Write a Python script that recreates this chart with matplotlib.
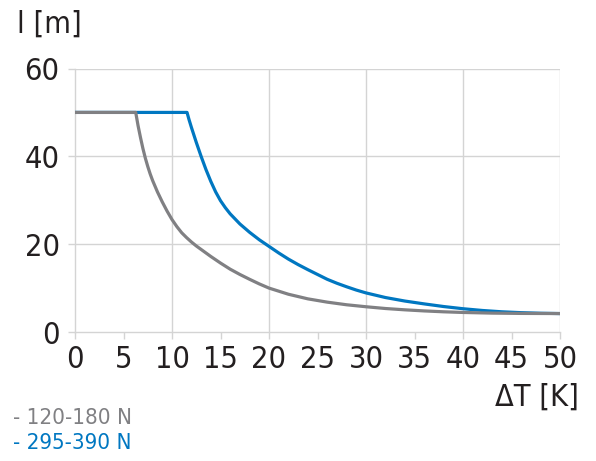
import matplotlib
matplotlib.use("Agg")
import matplotlib.pyplot as plt

plt.rcParams['font.family'] = ['DejaVu Sans']
plt.rcParams['font.stretch'] = 'condensed'

# Data
gray_x = [0, 6.26, 6.5, 6.75, 7.0, 7.25, 7.5, 7.75, 8.0, 8.5, 9.0, 9.5, 10, 10.5, 11, 11.5,
          12, 12.5, 13, 14, 15, 16, 17, 18, 19, 20, 22, 24, 26, 28, 30, 32, 34, 36, 38, 40,
          43, 46, 50]
gray_y = [50, 50, 47.0, 44.3, 41.8, 39.6, 37.7, 36.0, 34.5, 31.9, 29.6, 27.5, 25.6, 24.0, 22.6, 21.5,
          20.5, 19.6, 18.8, 17.2, 15.7, 14.3, 13.1, 12.0, 10.95, 10.0, 8.6, 7.55, 6.8, 6.2, 5.75, 5.35, 5.05, 4.8, 4.6, 4.45,
          4.3, 4.23, 4.2]

blue_x = [0, 11.55, 11.75, 12.0, 12.5, 13.0, 13.5, 14.0, 14.5, 15.0, 15.5, 16.0, 17, 18, 19, 20,
          21, 22, 23, 24, 25, 26, 27, 28, 29, 30, 32, 34, 36, 38, 40, 42, 44, 46, 48, 50]
blue_y = [50, 50, 48.4, 46.6, 43.2, 40.0, 37.0, 34.3, 31.9, 29.9, 28.3, 26.9, 24.6, 22.7, 21.0, 19.5,
          18.0, 16.6, 15.35, 14.2, 13.1, 12.0, 11.1, 10.3, 9.55, 8.9, 7.85, 7.05, 6.4, 5.8, 5.3, 4.9, 4.6, 4.4, 4.27, 4.2]

x_ticks = [0, 5, 10, 15, 20, 25, 30, 35, 40, 45, 50]
y_ticks = [0, 20, 40, 60]
legend_labels = ['- 120-180 N', '- 295-390 N']

GRAY = '#808083'
BLUE = '#0077c1'
TXT = '#231f20'
GRID = '#d4d4d4'

fig = plt.figure(figsize=(5.96, 4.61), dpi=100)
ax = fig.add_axes([75/596, 1-332/461, (560-75)/596, (332-68.5)/461])

ax.set_xlim(0, 50)
ax.set_ylim(0, 60)

for xv in [10, 20, 30, 40, 50]:
    ax.axvline(xv, color=GRID, lw=1.0, zorder=1)
for yv in [20, 40, 60]:
    ax.axhline(yv, color=GRID, lw=1.0, zorder=1)

ax.plot(blue_x, blue_y, color=BLUE, lw=2.3, zorder=3, solid_joinstyle='round')
ax.plot(gray_x, gray_y, color=GRAY, lw=2.3, zorder=4, solid_joinstyle='round')

for s in ['top', 'right']:
    ax.spines[s].set_visible(False)
for s in ['left', 'bottom']:
    ax.spines[s].set_color(GRID)
    ax.spines[s].set_linewidth(1.0)

ax.set_xticks(x_ticks)
ax.set_yticks(y_ticks)
ax.tick_params(axis='both', colors=GRID, labelcolor=TXT, labelsize=22, length=5, width=1)
ax.tick_params(axis='x', pad=4)
ax.tick_params(axis='y', pad=6)

fig.text(17/596, 1-24/461, 'l [m]', fontsize=22, color=TXT, ha='left', va='center')
fig.text(579/596, 1-397/461, 'ΔT [K]', fontsize=22, color=TXT, ha='right', va='center')
fig.text(13/596, 1-418/461, legend_labels[0], fontsize=16, color=GRAY, ha='left', va='center')
fig.text(13/596, 1-443/461, legend_labels[1], fontsize=16, color=BLUE, ha='left', va='center')

fig.savefig('out.png', dpi=100)
